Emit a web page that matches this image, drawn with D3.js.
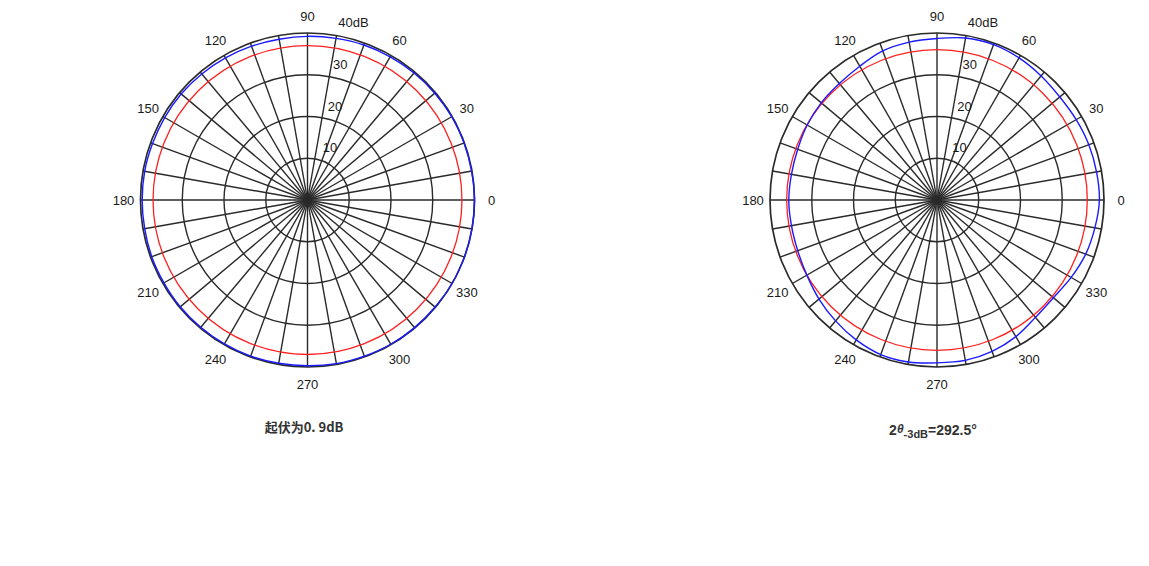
<!DOCTYPE html>
<html>
<head>
<meta charset="utf-8">
<script src="https://cdn.jsdelivr.net/npm/d3@7"></script>
<style>
  html, body { margin: 0; padding: 0; background: #fff; }
  svg { display: block; }
</style>
</head>
<body>
<svg id="chart" width="1149" height="566"></svg>
<script>
// ---- data ----
const angleTicks = [0, 30, 60, 90, 120, 150, 180, 210, 240, 270, 300, 330];
const spokeAngles = [0,10,20,30,40,50,60,70,80,90,100,110,120,130,140,150,160,170,180,190,200,210,220,230,240,250,260,270,280,290,300,310,320,330,340,350];
const ringTicks = [10, 20, 30, 40];
const ringLabels = ["10", "20", "30", "40dB"];
const sampleAngles = [0,10,20,30,40,50,60,70,80,90,100,110,120,130,140,150,160,170,180,190,200,210,220,230,240,250,260,270,280,290,300,310,320,330,340,350];

// left chart: measured pattern (dB) and -3dB reference
const leftPattern = [40.0,39.9,39.9,39.9,39.8,39.7,39.6,39.5,39.3,39.2,39.1,39.2,39.3,39.4,39.5,39.5,39.5,39.6,39.6,39.6,39.7,39.7,39.8,39.8,39.8,39.8,39.7,39.7,39.8,39.8,39.9,39.9,39.9,40.0,40.0,40.0];
const leftReference = 37;
const leftCaption = "起伏为0. 9dB";

// right chart
const rightPattern = [38.9,38.8,38.7,38.5,38.4,38.8,39.3,39.6,39.4,38.7,38.4,38.0,37.0,36.4,36.2,35.9,35.5,35.4,35.5,35.4,35.5,36.0,36.9,37.8,38.7,39.4,39.4,39.0,39.0,38.6,37.8,36.7,36.4,37.1,37.9,38.4];
const rightReference = 36;

// ---- drawing ----
const svg = d3.select("#chart");
svg.append("rect").attr("width", 1149).attr("height", 566).attr("fill", "#fff");

const R = 167;
const rScale = d3.scaleLinear().domain([0, 40]).range([0, R]);
const toRad = d => d * Math.PI / 180;

function drawPolar(cx, cy, pattern, refDb) {
  const g = svg.append("g").attr("transform", `translate(${cx},${cy})`);

  // spokes
  g.selectAll("line.spoke").data(spokeAngles).join("line")
    .attr("x1", 0).attr("y1", 0)
    .attr("x2", d => rScale(40) * Math.cos(toRad(d)))
    .attr("y2", d => -rScale(40) * Math.sin(toRad(d)))
    .attr("stroke", "#2a2a2a").attr("stroke-width", 1.4);

  // rings
  g.selectAll("circle.ring").data(ringTicks).join("circle")
    .attr("r", d => rScale(d))
    .attr("fill", "none")
    .attr("stroke", "#2a2a2a")
    .attr("stroke-width", d => d === 40 ? 1.7 : 1.4);

  // reference circle (red)
  g.append("circle").attr("r", rScale(refDb))
    .attr("fill", "none").attr("stroke", "#ff2020").attr("stroke-width", 1.3);

  // pattern (blue)
  const line = d3.lineRadial()
    .angle(d => toRad(90 - d[0]))
    .radius(d => rScale(d[1]))
    .curve(d3.curveCatmullRomClosed.alpha(0.5));
  g.append("path")
    .datum(sampleAngles.map((a, i) => [a, pattern[i]]))
    .attr("d", line)
    .attr("fill", "none").attr("stroke", "#1a1aff").attr("stroke-width", 1.4);

  // angle labels
  g.selectAll("text.ang").data(angleTicks).join("text")
    .attr("x", d => 184 * Math.cos(toRad(d)))
    .attr("y", d => -184 * Math.sin(toRad(d)))
    .attr("text-anchor", "middle").attr("dominant-baseline", "central")
    .attr("font-family", "Liberation Sans, Arial, sans-serif")
    .attr("font-size", 13).attr("fill", "#1a1a1a")
    .text(d => d);

  // ring labels
  g.selectAll("text.ring").data(ringTicks).join("text")
    .attr("x", d => 10 + rScale(d) * 0.124)
    .attr("y", d => -rScale(d) - 6)
    .attr("text-anchor", "start")
    .attr("font-family", "Liberation Sans, Arial, sans-serif")
    .attr("font-size", 13).attr("fill", "#1a1a1a")
    .text((d, i) => ringLabels[i]);
  return g;
}

drawPolar(307.5, 200, leftPattern, leftReference);
drawPolar(937, 200, rightPattern, rightReference);

// captions
svg.append("text").attr("x", 304).attr("y", 432)
  .attr("text-anchor", "middle")
  .attr("font-family", "Noto Sans CJK SC, sans-serif")
  .attr("font-weight", "bold").attr("font-size", 13).attr("fill", "#333")
  .text(leftCaption);

const cap = svg.append("text").attr("x", 933).attr("y", 435)
  .attr("text-anchor", "middle")
  .attr("font-family", "Liberation Sans, Arial, sans-serif")
  .attr("font-weight", "bold").attr("font-size", 14).attr("fill", "#333");
cap.append("tspan").text("2");
cap.append("tspan").attr("font-style", "italic").attr("font-size", 12).attr("dy", -2).text("θ");
cap.append("tspan").attr("font-size", 11).attr("dy", 5).text("-3dB");
cap.append("tspan").attr("dy", -3).text("=292.5°");
</script>
</body>
</html>
